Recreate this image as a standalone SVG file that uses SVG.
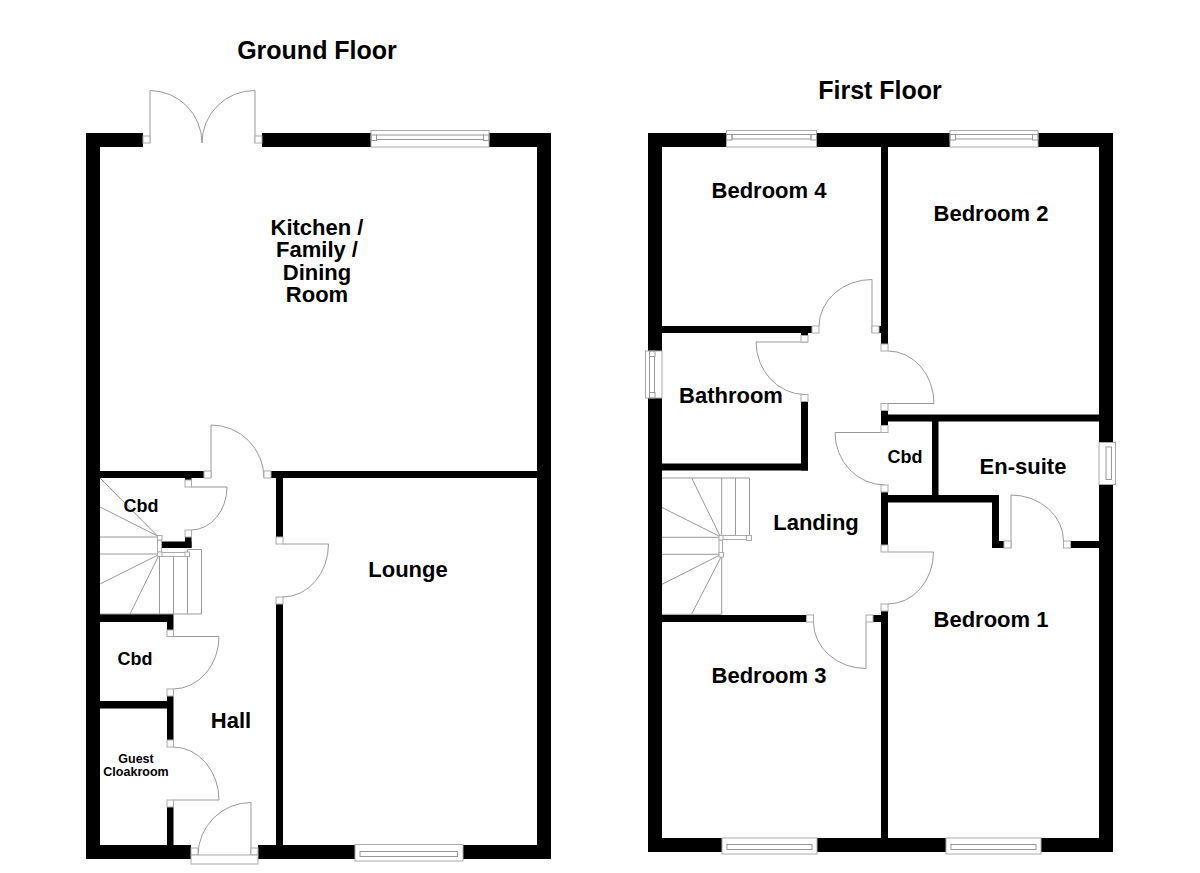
<svg xmlns="http://www.w3.org/2000/svg" width="1200" height="873" viewBox="0 0 1200 873">
<style>
.w{fill:#000}
.j{fill:#fff;stroke:#aaa;stroke-width:1}
.l{fill:none;stroke:#999;stroke-width:1}
.t{font-family:"Liberation Sans",Arial,sans-serif;font-weight:700;fill:#000;text-anchor:middle}
.r{font-size:22px}
.c{font-size:18px}
.x{font-size:12.5px}
.h{font-size:25px}
</style>
<rect width="1200" height="873" fill="#fff"/>

<g id="ground-floor">
<g id="gf-walls" class="w">
<rect x="86" y="133" width="14" height="726"/>
<rect x="86" y="133" width="57" height="14"/>
<rect x="262" y="133" width="109" height="14"/>
<rect x="489" y="133" width="62" height="14"/>
<rect x="537" y="133" width="14" height="726"/>
<rect x="86" y="845" width="105" height="14"/>
<rect x="258" y="845" width="97" height="14"/>
<rect x="463" y="845" width="88" height="14"/>
<rect x="100" y="471" width="104" height="7"/>
<rect x="271" y="471" width="266" height="7"/>
<rect x="276" y="478" width="7" height="59"/>
<rect x="276" y="604" width="7" height="241"/>
<rect x="185" y="478" width="6.500" height="2"/>
<rect x="185" y="537" width="6.500" height="11"/>
<rect x="161" y="541.500" width="30.500" height="6.500"/>
<rect x="100" y="614" width="73" height="8"/>
<rect x="167" y="614" width="6.500" height="16"/>
<rect x="167" y="696" width="6.500" height="44"/>
<rect x="100" y="701" width="67" height="7.500"/>
<rect x="167" y="807" width="6.500" height="38"/>
</g>
<g id="gf-stairs" class="l">
<path d="M100 478 157.500 536M100 507 157.500 536M100 537H157.500M100 554H158M100 584 158 555M130 614 159 555"/>
<path d="M159.500 556V614M173.500 556V614M187.500 550V614M201.500 549.500V614M100 614H201.500M187.500 549.500H201.500"/>
<rect class="j" x="157.500" y="540" width="4" height="12"/>
<rect class="j" x="160" y="552.500" width="29" height="4"/>
<rect class="j" x="157.500" y="535.500" width="4.500" height="4.500"/>
<rect class="j" x="157.500" y="552" width="4.500" height="4.500"/>
<rect class="j" x="185" y="552" width="4.500" height="4.500"/>
</g>
<g id="gf-doors">
<path class="l" d="M150 143V90.500A52.500 52.500 0 0 1 202 143"/>
<path class="l" d="M255 143V90.500A52.500 52.500 0 0 0 202 143"/>
<rect class="j" x="143" y="136" width="7" height="7"/>
<rect class="j" x="255" y="136" width="7" height="7"/>
<path class="l" d="M211 478V425A53 53 0 0 1 264 478"/>
<rect class="j" x="204" y="471" width="7" height="7"/>
<rect class="j" x="264" y="471" width="7" height="7"/>
<path class="l" d="M191.500 487H227A36 43 0 0 1 191.500 530"/>
<rect class="j" x="185" y="480" width="6.500" height="7"/>
<rect class="j" x="185" y="530" width="6.500" height="7"/>
<path class="l" d="M283 544H328.500A45.500 53 0 0 1 283 597"/>
<rect class="j" x="276" y="537" width="7" height="7"/>
<rect class="j" x="276" y="597" width="7" height="7"/>
<path class="l" d="M173.500 636.500H219A46 52.500 0 0 1 173.500 689"/>
<rect class="j" x="167" y="630" width="6.500" height="6.500"/>
<rect class="j" x="167" y="689" width="6.500" height="7"/>
<path class="l" d="M173.500 747A46 53 0 0 1 219 800H173.500"/>
<rect class="j" x="167" y="740" width="6.500" height="7"/>
<rect class="j" x="167" y="800" width="6.500" height="7"/>
<path class="l" d="M198 855A53 53 0 0 1 251 802.500V855"/>
<rect class="j" x="191" y="848" width="7" height="7"/>
<rect class="j" x="251" y="848" width="7" height="7"/>
<rect class="j" x="191" y="855" width="67" height="9"/>
</g>
<g id="gf-windows">
<rect class="j" x="371" y="130.500" width="118" height="16.500"/>
<rect class="l" x="371" y="135" width="5.500" height="5.500"/>
<rect class="l" x="483.500" y="135" width="5.500" height="5.500"/>
<rect class="l" x="376.500" y="135" width="107" height="4.500"/>
<rect class="j" x="355" y="844.500" width="108" height="16.500"/>
<rect class="l" x="360" y="851.500" width="97.500" height="5"/>
</g>
<g id="gf-labels">
<text class="t h" x="317" y="59">Ground Floor</text>
<text class="t r" x="317" y="235">Kitchen /</text>
<text class="t r" x="317" y="257">Family /</text>
<text class="t r" x="317" y="279.500">Dining</text>
<text class="t r" x="317" y="301.500">Room</text>
<text class="t r" x="408" y="577">Lounge</text>
<text class="t r" x="231" y="728">Hall</text>
<text class="t c" x="141" y="511.500">Cbd</text>
<text class="t c" x="135" y="664.500">Cbd</text>
<text class="t x" x="136" y="763">Guest</text>
<text class="t x" x="136" y="776">Cloakroom</text>
</g>
</g>

<g id="first-floor">
<g id="ff-walls" class="w">
<rect x="648" y="133" width="14" height="218"/>
<rect x="648" y="398" width="14" height="454"/>
<rect x="648" y="133" width="78" height="14"/>
<rect x="816" y="133" width="134" height="14"/>
<rect x="1038" y="133" width="75" height="14"/>
<rect x="1099" y="133" width="14" height="310"/>
<rect x="1099" y="484" width="14" height="368"/>
<rect x="648" y="838" width="74" height="14"/>
<rect x="817" y="838" width="129" height="14"/>
<rect x="1041" y="838" width="72" height="14"/>
<rect x="881" y="147" width="7" height="197"/>
<rect x="879" y="326" width="2" height="7"/>
<rect x="662" y="326" width="150" height="7"/>
<rect x="801" y="333" width="7" height="2.500"/>
<rect x="801" y="401.500" width="7" height="69"/>
<rect x="662" y="463.500" width="146" height="7"/>
<rect x="881" y="410.500" width="7" height="15"/>
<rect x="888" y="414.500" width="211" height="7"/>
<rect x="932" y="421" width="6.500" height="74"/>
<rect x="881" y="492" width="7" height="53"/>
<rect x="888" y="495" width="111" height="7.500"/>
<rect x="992" y="502" width="7" height="46"/>
<rect x="992" y="541" width="12" height="7"/>
<rect x="1070" y="541" width="29" height="7"/>
<rect x="881" y="611" width="7" height="227"/>
<rect x="873" y="615" width="8" height="7"/>
<rect x="662" y="615" width="145" height="7"/>
</g>
<g id="ff-stairs" class="l">
<path d="M662 478H749.500M721.700 478V535M735.500 478V535M749.500 478V536"/>
<path d="M691.700 478 720 536M662 507.500 719 536M662 537.300H719M662 554.300H719M662 584.300 720 555M691.700 614 721.500 556M721.700 556V614M662 614.300H721.700"/>
<rect class="j" x="719" y="540" width="3.500" height="13"/>
<rect class="j" x="722" y="535.500" width="26" height="4"/>
<rect class="j" x="719" y="535.500" width="4" height="4.500"/>
<rect class="j" x="719" y="552.500" width="4.500" height="4.500"/>
<rect class="j" x="746.500" y="535.500" width="5" height="5"/>
</g>
<g id="ff-doors">
<path class="l" d="M819 326A53 47 0 0 1 872 279.500V333"/>
<rect class="j" x="812" y="326" width="7" height="7"/>
<rect class="j" x="872" y="326" width="7" height="7"/>
<path class="l" d="M808 342H756A49 53 0 0 0 805 394.500"/>
<rect class="j" x="801" y="335.500" width="7" height="6.500"/>
<rect class="j" x="801" y="394.500" width="7" height="7"/>
<path class="l" d="M888 351A46 52.500 0 0 1 934 403.500H888"/>
<rect class="j" x="881" y="344" width="7" height="7"/>
<rect class="j" x="881" y="403.500" width="7" height="7"/>
<path class="l" d="M888 432.500H835A50 52.500 0 0 0 885 485"/>
<rect class="j" x="881" y="425.500" width="7" height="7"/>
<rect class="j" x="881" y="485" width="7" height="7"/>
<path class="l" d="M888 552H933.500A45.500 52 0 0 1 888 604"/>
<rect class="j" x="881" y="545" width="7" height="7"/>
<rect class="j" x="881" y="604" width="7" height="7"/>
<path class="l" d="M866 622V668.500A52.500 46.500 0 0 1 813.500 622"/>
<rect class="j" x="806.500" y="615" width="7" height="7"/>
<rect class="j" x="866" y="615" width="7" height="7"/>
<path class="l" d="M1011 548V495A52.500 46 0 0 1 1063.500 541"/>
<rect class="j" x="1004" y="541" width="7" height="7"/>
<rect class="j" x="1063.500" y="541" width="7" height="7"/>
</g>
<g id="ff-windows">
<rect class="j" x="726.500" y="130.500" width="90" height="16.500"/>
<rect class="l" x="726.500" y="134.500" width="5.500" height="5.500"/>
<rect class="l" x="811" y="134.500" width="5.500" height="5.500"/>
<rect class="l" x="732" y="134.500" width="79" height="4.500"/>
<rect class="j" x="950" y="130.500" width="88" height="16.500"/>
<rect class="l" x="950" y="134.500" width="5.500" height="5.500"/>
<rect class="l" x="1032.500" y="134.500" width="5.500" height="5.500"/>
<rect class="l" x="955.500" y="134.500" width="77" height="4.500"/>
<rect class="j" x="722" y="838" width="95" height="16"/>
<rect class="l" x="727" y="844.500" width="85" height="5"/>
<rect class="j" x="946" y="838" width="95" height="16"/>
<rect class="l" x="951" y="844.500" width="85" height="5"/>
<rect class="j" x="645.500" y="351" width="16.500" height="47"/>
<rect class="l" x="649.500" y="351" width="5.500" height="5.500"/>
<rect class="l" x="649.500" y="392.500" width="5.500" height="5.500"/>
<rect class="l" x="649.500" y="356.500" width="5" height="36"/>
<rect class="j" x="1099" y="442.500" width="16.500" height="42"/>
<rect class="l" x="1106" y="447" width="5.500" height="32.500"/>
</g>
<g id="ff-labels">
<text class="t h" x="880" y="99">First Floor</text>
<text class="t r" x="769" y="198">Bedroom 4</text>
<text class="t r" x="991" y="220.500">Bedroom 2</text>
<text class="t r" x="731" y="403">Bathroom</text>
<text class="t c" x="905" y="462.500">Cbd</text>
<text class="t r" x="1023" y="473.500">En-suite</text>
<text class="t r" x="816" y="530">Landing</text>
<text class="t r" x="991" y="627">Bedroom 1</text>
<text class="t r" x="769" y="683">Bedroom 3</text>
</g>
</g>
</svg>
